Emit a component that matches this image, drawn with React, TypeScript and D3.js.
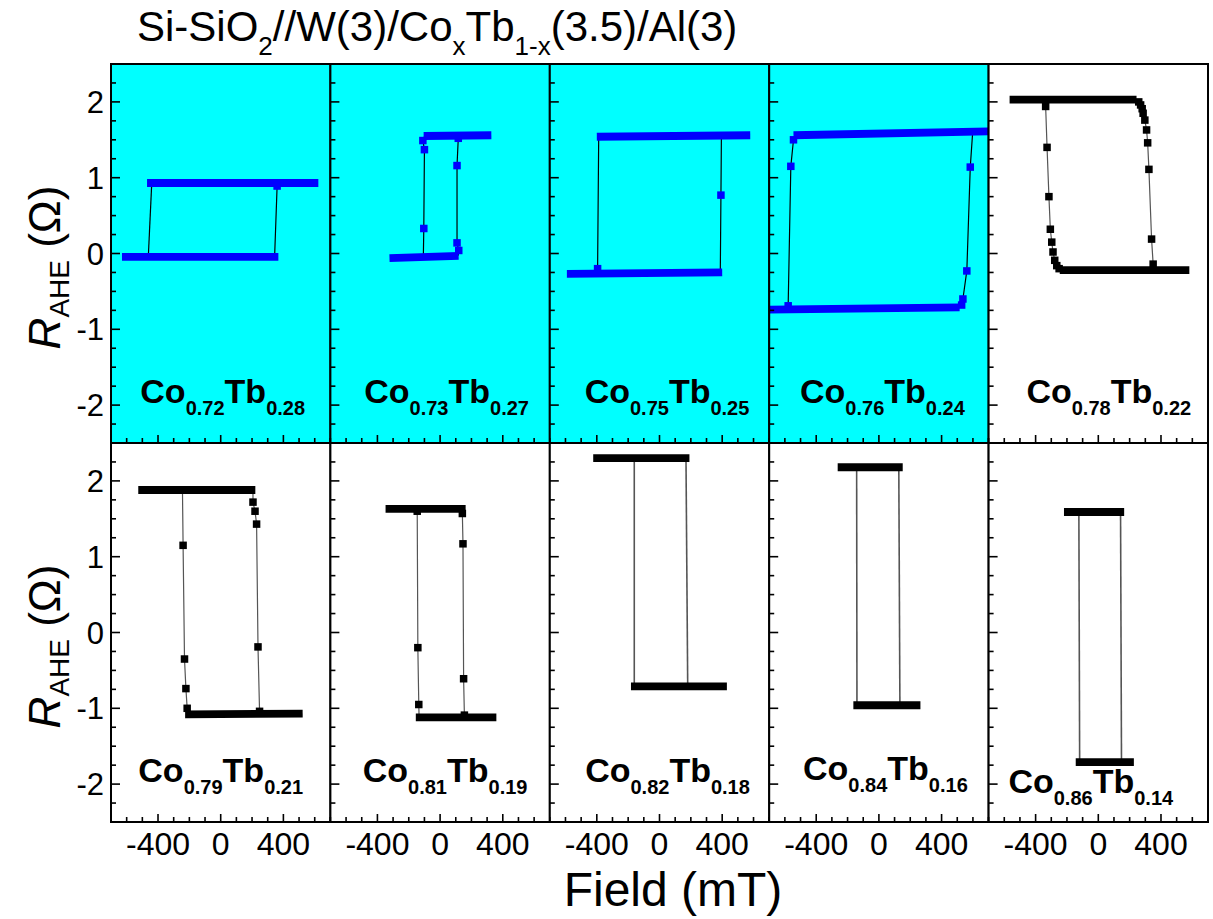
import React from 'react';
import * as d3 from 'd3';

const coFractions = ['0.72', '0.73', '0.75', '0.76', '0.78', '0.79', '0.81', '0.82', '0.84', '0.86'];
const tbFractions = ['0.28', '0.27', '0.25', '0.24', '0.22', '0.21', '0.19', '0.18', '0.16', '0.14'];
const highlighted = [true, true, true, true, false, false, false, false, false, false];

// plateau segments: [fieldStart, fieldEnd, R at start, R at end]
const upperPlateaus = [
  [-470, 623, 0.93, 0.93],
  [-105, 327, 1.55, 1.56],
  [-400, 579, 1.54, 1.56],
  [-545, 700, 1.56, 1.61],
  [-566, 244, 2.03, 2.03],
  [-526, 221, 1.88, 1.88],
  [-348, 163, 1.63, 1.63],
  [-423, 191, 2.3, 2.3],
  [-263, 152, 2.18, 2.18],
  [-219, 165, 1.59, 1.59],
];
const lowerPlateaus = [
  [-630, 368, -0.045, -0.045],
  [-323, 118, -0.06, -0.03],
  [-591, 400, -0.27, -0.25],
  [-700, 515, -0.74, -0.71],
  [-246, 581, -0.22, -0.22],
  [-227, 523, -1.08, -1.07],
  [-155, 359, -1.12, -1.12],
  [-182, 430, -0.71, -0.71],
  [-163, 265, -0.96, -0.96],
  [-144, 227, -1.71, -1.71],
];
// switching branches [field, R]; interior points are measured markers
const leftSwitches = [
  [[-440, 0.93], [-462, -0.045]],
  [[-98, 1.55], [-110, 1.49], [-100, 1.37], [-104, 0.33], [-107, -0.05]],
  [[-388, 1.54], [-395, -0.2], [-397, -0.26]],
  [[-535, 1.56], [-545, 1.5], [-562, 1.15], [-579, -0.69], [-590, -0.73]],
  [[-340, 2.03], [-336, 1.94], [-327, 1.4], [-315, 0.75], [-306, 0.32], [-297, 0.15], [-289, 0.02], [-278, -0.09], [-265, -0.16], [-250, -0.2], [-246, -0.22]],
  [[-244, 1.88], [-240, 1.15], [-231, -0.35], [-222, -0.74], [-214, -1.0], [-212, -1.07]],
  [[-146, 1.63], [-146, 1.6], [-142, -0.2], [-136, -0.95], [-134, -1.12]],
  [[-161, 2.3], [-161, -0.71]],
  [[-142, 2.18], [-140, -0.96]],
  [[-124, 1.59], [-119, -1.71]],
];
const rightSwitches = [
  [[344, -0.045], [360, 0.89], [363, 0.93]],
  [[115, -0.03], [119, 0.04], [108, 0.14], [108, 1.16], [116, 1.52], [120, 1.55]],
  [[388, -0.25], [392, 0.77], [395, 1.55]],
  [[515, -0.71], [528, -0.68], [536, -0.6], [561, -0.23], [583, 1.14], [598, 1.59]],
  [[244, 2.03], [258, 2.0], [270, 1.96], [280, 1.91], [286, 1.85], [297, 1.76], [308, 1.63], [315, 1.46], [323, 1.11], [340, 0.19], [350, -0.14], [353, -0.22]],
  [[206, 1.88], [206, 1.72], [219, 1.6], [229, 1.43], [238, -0.19], [248, -1.04], [250, -1.07]],
  [[142, 1.63], [142, 1.57], [146, 1.17], [150, -0.61], [155, -1.09], [156, -1.12]],
  [[169, 2.3], [180, -0.71]],
  [[127, 2.18], [134, -0.96]],
  [[142, 1.59], [148, -1.71]],
];

const yTickValues = [-2, -1, 0, 1, 2];
const xTickValues = [-400, 0, 400];

// layout
const W = 1213;
const H = 919;
const LEFT = 111;
const RIGHT = 1208;
const ROW_TOPS = [64, 443];
const ROW_H = 379;
const COL_W = (RIGHT - LEFT) / 5;
const labelDx = [2, 6.5, 7.5, 3.5, 10.5, 0, 5, 8, 6.5, -7.5];
const labelDy = [0, 0, 0, 0, 0, 0, 0, 0, -2, 11];
const FONT = '"Liberation Sans", Arial, Helvetica, sans-serif';
const CYAN = '#00FFFF';
const BLUE = '#0000FF';

function Panel({ i }: { i: number }) {
  const row = Math.floor(i / 5);
  const col = i % 5;
  const x0 = LEFT + col * COL_W;
  const top = ROW_TOPS[row];
  const x = d3.scaleLinear().domain([-700, 700]).range([x0, x0 + COL_W]);
  const y = d3.scaleLinear().domain([-2.5, 2.5]).range([top + ROW_H, top]);
  const hl = highlighted[i];
  const markColor = hl ? BLUE : '#000';
  const linkColor = hl ? '#000' : '#555';
  const line = d3.line<number[]>().x((d) => x(d[0])).y((d) => y(d[1]));
  const clipId = `clip${i}`;
  const yMinor = d3.range(-2.5, 2.5001, 0.25);
  const xMinor = d3.range(-700, 700.001, 100);
  const bars = [upperPlateaus[i], lowerPlateaus[i]];
  const switches = [leftSwitches[i], rightSwitches[i]];
  const ms = 7.5;
  const cx = x0 + COL_W / 2 + labelDx[i];
  const by = (row === 0 ? 403 : 782) + labelDy[i];
  return (
    <g>
      <defs>
        <clipPath id={clipId}>
          <rect x={x0} y={top} width={COL_W} height={ROW_H} />
        </clipPath>
      </defs>
      <rect x={x0} y={top} width={COL_W} height={ROW_H} fill={hl ? CYAN : '#fff'} />
      <g clipPath={`url(#${clipId})`}>
        {switches.map((s, k) => (
          <path key={'l' + k} d={line(s) || ''} fill="none" stroke={linkColor} strokeWidth={i >= 7 ? 1.6 : 1.2} />
        ))}
        {bars.map((b, k) => (
          <line key={'b' + k} x1={x(b[0])} x2={x(b[1])} y1={y(b[2])} y2={y(b[3])} stroke={markColor} strokeWidth={7.8} />
        ))}
        {switches.map((s, k) =>
          s.slice(1, -1).map((p, j) => (
            <rect key={`m${k}-${j}`} x={x(p[0]) - ms / 2} y={y(p[1]) - ms / 2} width={ms} height={ms} fill={markColor} />
          ))
        )}
      </g>
      {yMinor.map((v, k) => {
        const major = Math.abs(v - Math.round(v)) < 1e-6;
        return <line key={'yt' + k} x1={x0} x2={x0 + (major ? 9 : 5)} y1={y(v)} y2={y(v)} stroke="#000" strokeWidth={1.6} />;
      })}
      {xMinor.map((v, k) => {
        const major = xTickValues.includes(Math.round(v));
        return <line key={'xt' + k} x1={x(v)} x2={x(v)} y1={top + ROW_H} y2={top + ROW_H - (major ? 8 : 5)} stroke="#000" strokeWidth={1.6} />;
      })}
      <rect x={x0} y={top} width={COL_W} height={ROW_H} fill="none" stroke="#000" strokeWidth={2} />
      {col === 0 &&
        yTickValues.map((v) => (
          <text key={'yl' + v} x={x0 - 7} y={y(v)} dy="0.36em" textAnchor="end" fontSize={31} fontFamily={FONT}>
            {v}
          </text>
        ))}
      {row === 1 &&
        xTickValues.map((v) => (
          <text key={'xl' + v} x={x(v)} y={855} textAnchor="middle" fontSize={32} fontFamily={FONT}>
            {v}
          </text>
        ))}
      <text x={cx} y={by} textAnchor="middle" fontSize={34} fontWeight="bold" fontFamily={FONT}>
        Co
        <tspan fontSize={20} dy={12}>{coFractions[i]}</tspan>
        <tspan dy={-12}>Tb</tspan>
        <tspan fontSize={20} dy={12}>{tbFractions[i]}</tspan>
      </text>
    </g>
  );
}

export default function App() {
  const panels = d3.range(10);
  return (
    <svg width={W} height={H} style={{ position: 'absolute', left: 0, top: 0, background: '#fff' }} fontFamily={FONT}>
      <rect x={0} y={0} width={W} height={H} fill="#fff" />
      <text x={137} y={41} fontSize={42} fontFamily={FONT}>
        Si-SiO
        <tspan fontSize={26} dy={14}>2</tspan>
        <tspan dy={-14}>//W(3)/Co</tspan>
        <tspan fontSize={26} dy={14}>x</tspan>
        <tspan dy={-14}>Tb</tspan>
        <tspan fontSize={26} dy={14}>1-x</tspan>
        <tspan dy={-14}>(3.5)/Al(3)</tspan>
      </text>
      {panels.map((i) => (
        <Panel key={i} i={i} />
      ))}
      {ROW_TOPS.map((t, r) => (
        <text key={'yt' + r} transform={`translate(60, ${t + ROW_H / 2 + 14}) rotate(-90)`} textAnchor="middle" fontSize={44} fontFamily={FONT}>
          <tspan fontStyle="italic">R</tspan>
          <tspan fontSize={28} dy={9}>AHE</tspan>
          <tspan dy={-9}> (Ω)</tspan>
        </text>
      ))}
      <text x={673} y={906} textAnchor="middle" fontSize={48} fontFamily={FONT}>
        Field (mT)
      </text>
    </svg>
  );
}
